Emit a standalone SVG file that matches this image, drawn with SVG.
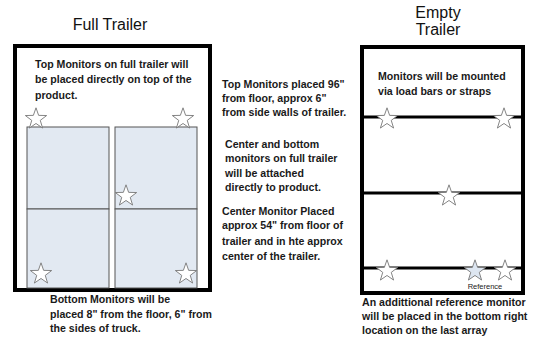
<svg xmlns="http://www.w3.org/2000/svg" width="533" height="338" viewBox="0 0 533 338">
<style>
.title{font-family:"Liberation Sans",Arial,sans-serif;font-size:16px;fill:#111}
.note{font-family:"Liberation Sans",Arial,sans-serif;font-size:10.6px;font-weight:bold;fill:#1a1a1a}
.frame{fill:#fff;stroke:#000;stroke-width:4}
.box{fill:#e2e9f2;stroke:#555;stroke-width:1}
.bar{stroke:#000;stroke-width:3}
.star{fill:#fff;stroke:#777;stroke-width:0.8}
.star.ref{fill:#dde6f1}
.small{font-family:"Liberation Sans",Arial,sans-serif;font-size:7.5px;fill:#222}
</style>
<defs>
<path id="star" d="M0,-10 L2.35,-3.24 L9.51,-3.09 L3.8,1.24 L5.88,8.09 L0,4 L-5.88,8.09 L-3.8,1.24 L-9.51,-3.09 L-2.35,-3.24 Z"/>
</defs>
<rect width="533" height="338" fill="#fff"/>

<g id="full-trailer">
<text class="title" x="110" y="30" text-anchor="middle">Full Trailer</text>
<rect class="frame" x="15" y="46" width="195" height="244"/>
<text class="note"><tspan x="35" y="68">Top Monitors on full trailer will</tspan><tspan x="35" y="83">be placed directly on top of the</tspan><tspan x="35" y="99">product.</tspan></text>
</g>
<g id="product-boxes">
<rect class="box" x="27" y="127" width="82" height="82"/>
<rect class="box" x="27" y="209" width="82" height="79"/>
<rect class="box" x="115" y="127" width="82" height="82"/>
<rect class="box" x="115" y="209" width="82" height="79"/>
</g>
<g id="full-stars">
<use href="#star" class="star" transform="translate(36,119) scale(1.12)"/>
<use href="#star" class="star" transform="translate(183,119) scale(1.12)"/>
<use href="#star" class="star" transform="translate(126,196) scale(1.12)"/>
<use href="#star" class="star" transform="translate(41,274) scale(1.12)"/>
<use href="#star" class="star" transform="translate(186,274) scale(1.12)"/>
</g>
<g id="bottom-note">
<text class="note"><tspan x="50" y="303">Bottom Monitors will be</tspan><tspan x="50" y="318">placed 8" from the floor, 6" from</tspan><tspan x="50" y="332">the sides of truck.</tspan></text>
</g>
<g id="middle-notes">
<text class="note"><tspan x="222" y="88">Top Monitors placed 96"</tspan><tspan x="222" y="102">from floor, approx 6"</tspan><tspan x="222" y="116">from side walls of trailer.</tspan></text>
<text class="note"><tspan x="225" y="148">Center and bottom</tspan><tspan x="225" y="162">monitors on full trailer</tspan><tspan x="225" y="177">will be attached</tspan><tspan x="225" y="191">directly to product.</tspan></text>
<text class="note"><tspan x="222" y="215">Center Monitor Placed</tspan><tspan x="222" y="229">approx 54" from floor of</tspan><tspan x="222" y="245">trailer and in hte approx</tspan><tspan x="222" y="260">center of the trailer.</tspan></text>
</g>

<g id="empty-trailer">
<text class="title" text-anchor="middle"><tspan x="438" y="18">Empty</tspan><tspan x="438" y="35">Trailer</tspan></text>
<rect class="frame" x="362" y="47" width="161" height="246"/>
<text class="note"><tspan x="378" y="80">Monitors will be mounted</tspan><tspan x="378" y="95">via load bars or straps</tspan></text>
</g>
<g id="load-bars">
<line class="bar" x1="362" y1="117" x2="523" y2="117"/>
<line class="bar" x1="362" y1="193" x2="523" y2="193"/>
<line class="bar" x1="362" y1="268" x2="523" y2="268"/>
</g>
<g id="empty-stars">
<use href="#star" class="star" transform="translate(387,119) scale(1.12)"/>
<use href="#star" class="star" transform="translate(504,119) scale(1.12)"/>
<use href="#star" class="star" transform="translate(449,196) scale(1.12)"/>
<use href="#star" class="star" transform="translate(387,271) scale(1.12)"/>
<use href="#star" class="star ref" transform="translate(475,271) scale(1.12)"/>
<use href="#star" class="star" transform="translate(505,271) scale(1.12)"/>
<text class="small" x="485" y="289" text-anchor="middle">Reference</text>
</g>
<g id="empty-note">
<text class="note"><tspan x="362" y="306">An addittional reference monitor</tspan><tspan x="362" y="320">will be placed in the bottom right</tspan><tspan x="362" y="334">location on the last array</tspan></text>
</g>
</svg>
